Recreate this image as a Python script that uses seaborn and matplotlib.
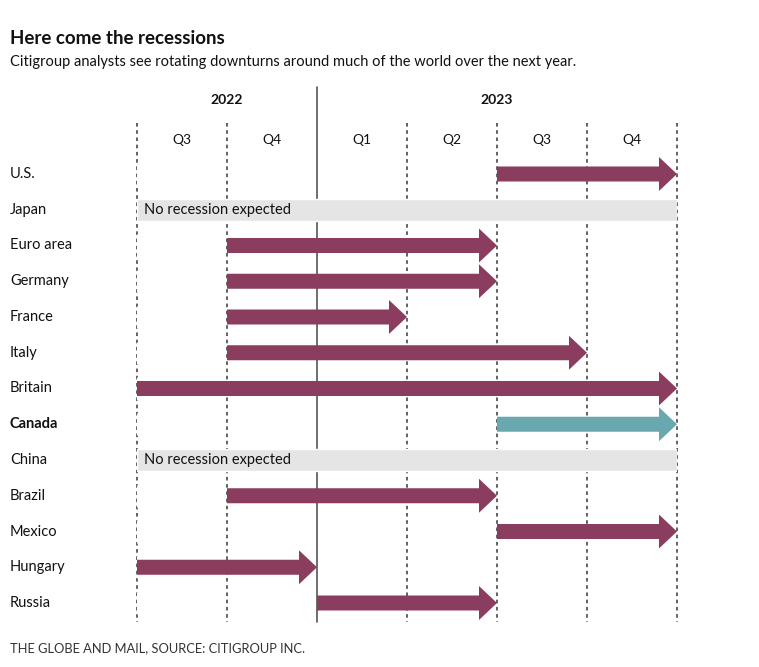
import matplotlib
matplotlib.use("Agg")
import matplotlib.pyplot as plt
import matplotlib.transforms as mtransforms
import seaborn as sns
import pandas as pd

countries = ["U.S.", "Japan", "Euro area", "Germany", "France", "Italy", "Britain",
             "Canada", "China", "Brazil", "Mexico", "Hungary", "Russia"]
# recession start / end in quarters from Q3 2022 (0) to end of Q4 2023 (6); None = no recession
starts = [4, None, 1, 1, 1, 1, 0, 4, None, 1, 4, 0, 2]
ends = [6, None, 4, 4, 3, 5, 6, 6, None, 4, 6, 2, 4]
quarters = ["Q3", "Q4", "Q1", "Q2", "Q3", "Q4"]
years = ["2022", "2023"]
highlight = "Canada"

sns.set_theme(style="white")
plt.rcParams["font.family"] = ["Lato", "DejaVu Sans"]

MAROON = "#8a3d5f"
TEAL = "#69a8ae"
GRAY = "#e5e5e5"
LINE = "#555555"

fig = plt.figure(figsize=(7.59, 6.67), dpi=100)
W, H = 759, 667
top_px, bot_px = 87, 622
ax = fig.add_axes([137 / W, 1 - bot_px / H, 540 / W, (bot_px - top_px) / H])

no_rec = [6 if s is None else 0 for s in starts]
df = pd.DataFrame({"country": countries, "norec": no_rec})
sns.barplot(data=df, x="norec", y="country", orient="h", color=GRAY,
            width=0.62, ax=ax, saturation=1, zorder=2)

row0 = 174
step = 35.75
ax.set_ylim((bot_px - row0) / step, (top_px - row0) / step)
ax.set_xlim(0, 6)
for s in ax.spines.values():
    s.set_visible(False)
ax.set_xticks([])
ax.set_yticks([])
ax.set_xlabel("")
ax.set_ylabel("")

ybot = (bot_px - row0) / step
ydash = (123 - row0) / step
ytop = (top_px - row0) / step
for xb in [0, 1, 3, 4, 5, 6]:
    ax.plot([xb, xb], [ydash, ybot], color=LINE, lw=1.3, ls=(0, (2, 2)),
            clip_on=False, zorder=0.5)
ax.plot([2, 2], [ytop, ybot], color=LINE, lw=1.2, clip_on=False, zorder=0.5)

# headers
ax.text(1, (100 - row0) / step, years[0], ha="center", va="center",
        fontsize=10, fontweight="bold", color="#111111")
ax.text(4, (100 - row0) / step, years[1], ha="center", va="center",
        fontsize=10, fontweight="bold", color="#111111")
for i, q in enumerate(quarters):
    ax.text(i + 0.5, (140 - row0) / step, q, ha="center", va="center",
            fontsize=10, color="#111111")

# arrows
for i, (c, s, e) in enumerate(zip(countries, starts, ends)):
    if s is None:
        ax.text(0.08, i, "No recession expected", ha="left", va="center",
                fontsize=10.5, color="#111111", zorder=3)
        continue
    col = TEAL if c == highlight else MAROON
    ax.arrow(s, i, e - s, 0, width=0.42, head_width=0.95, head_length=0.2,
             length_includes_head=True, color=col, lw=0, zorder=3)

# row labels
trans = mtransforms.blended_transform_factory(fig.transFigure, ax.transData)
for i, c in enumerate(countries):
    ax.text(10 / W, i, c, transform=trans, ha="left", va="center", fontsize=10.5,
            fontweight="bold" if c == highlight else "normal", color="#111111")

fig.text(10 / W, 1 - 38 / H, "Here come the recessions", ha="left", va="center",
         fontsize=13.5, fontweight="bold", color="#111111")
fig.text(10 / W, 1 - 62 / H,
         "Citigroup analysts see rotating downturns around much of the world over the next year.",
         ha="left", va="center", fontsize=10.5, color="#111111")
fig.text(10 / W, 1 - 648 / H, "THE GLOBE AND MAIL, SOURCE: CITIGROUP INC.",
         ha="left", va="center", fontsize=9.3, color="#333333")

fig.savefig("out.png", dpi=100)
